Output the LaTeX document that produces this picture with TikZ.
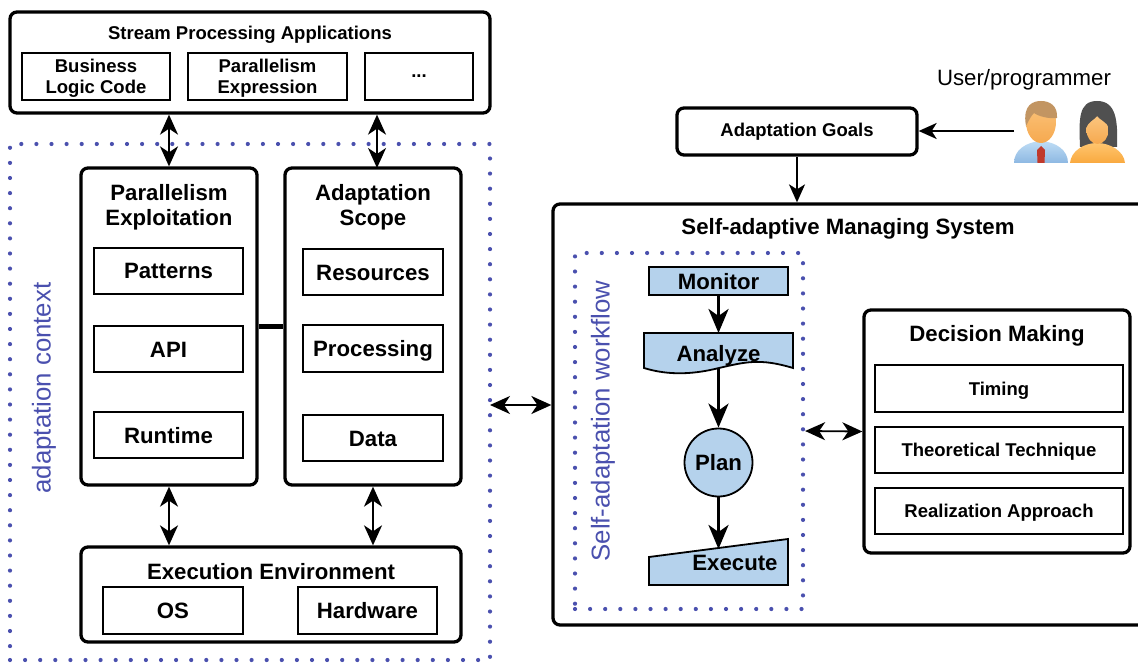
\documentclass[tikz,border=0pt]{standalone}
\usepackage{fontspec}
\setmainfont{Liberation Sans}
\usetikzlibrary{arrows.meta}
\definecolor{flowblue}{HTML}{B5D2EC}
\definecolor{dotblue}{HTML}{4A50AE}
\definecolor{skin}{HTML}{FBC57E}
\definecolor{skindark}{HTML}{F6A94F}
\definecolor{shirtlight}{HTML}{BFDDF5}
\definecolor{shirtdark}{HTML}{8DB8E2}
\definecolor{topyellow}{HTML}{FFC56E}
\definecolor{topdark}{HTML}{F9A93F}
\definecolor{hairbrown}{HTML}{C29562}
\definecolor{hairblack}{HTML}{505050}
\definecolor{tiered}{HTML}{C0392B}
\tikzset{
  bigbox/.style={draw,line width=3.3pt,rounded corners=7pt,inner sep=0pt},
  subbox/.style={draw,line width=1.8pt,inner sep=0pt,align=center,font=\fontsize{18.5}{21}\selectfont\bfseries},
  twoline/.style={subbox,text height=35pt,text depth=0pt},
  oneline/.style={subbox,text height=13.5pt,text depth=0pt},
  bigsub/.style={draw,line width=1.8pt,inner sep=0pt,text height=16pt,text depth=0pt,font=\fontsize{22.2}{25}\selectfont\bfseries},
  dotbox/.style={draw=dotblue,line width=4.2pt,line cap=round,dash pattern=on 0pt off 15.1pt,inner sep=0pt},
  flowbox/.style={draw,fill=flowblue,line width=1.8pt,inner sep=0pt,font=\fontsize{22.2}{25}\selectfont\bfseries},
  flowtxt/.style={inner sep=0pt,font=\fontsize{22.2}{25}\selectfont\bfseries},
  title/.style={inner sep=0pt,align=center,font=\fontsize{22.2}{25}\selectfont\bfseries},
  sidelabel/.style={inner sep=0pt,rotate=90,text=dotblue,font=\fontsize{25.8}{30}\selectfont},
  both/.style={{Stealth[length=20pt,width=18pt,inset=6pt]}-{Stealth[length=20pt,width=18pt,inset=6pt]},line width=1.8pt},
  flow/.style={-{Stealth[length=24pt,width=20pt,inset=7pt]},line width=3.4pt},
  oneway/.style={-{Stealth[length=18pt,width=16pt,inset=5pt]},line width=1.8pt},
}
\begin{document}
\begin{tikzpicture}[x=1pt,y=-1pt]
\useasboundingbox (0,0) rectangle (1138,663);
% dotted frames
\node[dotbox,minimum width=480pt,minimum height=516pt] (context) at (250,402) {};
\node[dotbox,minimum width=228pt,minimum height=356pt] (workflow) at (689,431) {};
\node[sidelabel] (contextlabel) at (44,388) {adaptation context};
\node[sidelabel] (workflowlabel) at (603,421) {Self-adaptation workflow};
% applications
\node[bigbox,fill=white,minimum width=480pt,minimum height=101pt] (apps) at (250,62.5) {};
\node[title,font=\fontsize{18.5}{22}\selectfont\bfseries] (appstitle) at (250,35) {Stream Processing Applications};
\node[twoline,minimum width=148pt,minimum height=47pt] (logic) at (96,76.5) {Business\\Logic Code};
\node[twoline,minimum width=159pt,minimum height=47pt] (express) at (267.5,76.5) {Parallelism\\Expression};
\node[subbox,minimum width=108pt,minimum height=47pt] (dots) at (419,76.5) {...};
% parallelism
\node[bigbox,fill=white,minimum width=176pt,minimum height=317pt] (parallel) at (169,326.5) {};
\node[title] (paralleltitle) at (169,207) {Parallelism\\Exploitation};
\node[bigsub,minimum width=149pt,minimum height=46pt] (patterns) at (168.5,271) {Patterns};
\node[bigsub,minimum width=149pt,minimum height=46pt] (api) at (168.5,349) {API};
\node[bigsub,minimum width=149pt,minimum height=46pt] (runtime) at (168.5,435) {Runtime};
% scope
\node[bigbox,fill=white,minimum width=176pt,minimum height=317pt] (scope) at (373,326.5) {};
\node[title] (scopetitle) at (373,207) {Adaptation\\Scope};
\node[bigsub,minimum width=140pt,minimum height=46pt] (resources) at (373,272) {Resources};
\node[bigsub,minimum width=140pt,minimum height=47pt] (processing) at (373,348.5) {Processing};
\node[bigsub,minimum width=140pt,minimum height=46pt] (data) at (373,438) {Data};
\draw[line width=5pt] (parallel.east |- 0,326) -- (scope.west |- 0,326);
% environment
\node[bigbox,fill=white,minimum width=380pt,minimum height=95pt] (environ) at (271,594.5) {};
\node[title] (environtitle) at (271,572) {Execution Environment};
\node[bigsub,minimum width=140pt,minimum height=47pt] (os) at (173,610.5) {OS};
\node[bigsub,minimum width=139pt,minimum height=47pt] (hardware) at (367.5,610.5) {Hardware};
% goals and user
\node[bigbox,minimum width=240pt,minimum height=47pt,font=\fontsize{18.5}{22}\selectfont\bfseries] (goals) at (797,131.5) {Adaptation Goals};
\node[inner sep=0pt,font=\fontsize{22.2}{26}\selectfont] (user) at (1024,80) {User/programmer};
\coordinate (people) at (1014,131);
% man
\shade[top color=shirtlight,bottom color=shirtdark] (1014,163) .. controls (1014,150) and (1026,142) .. (1041,141) .. controls (1056,142) and (1068,150) .. (1068,163) -- cycle;
\fill[tiered] (1041,146) -- (1045,150) -- (1044.5,163) -- (1037.5,163) -- (1037,150) -- cycle;
\shade[top color=skin,bottom color=skindark] (1041,122) ellipse (15pt and 21pt);
\fill[hairbrown] (1026,126) .. controls (1022,104) and (1034,101) .. (1041,101) .. controls (1050,101) and (1058,106) .. (1057,118) .. controls (1048,119) and (1038,116) .. (1034,113) .. controls (1031,116) and (1029,120) .. (1026,126) -- cycle;
% woman
\fill[hairblack] (1080,147) .. controls (1079,120) and (1078,101) .. (1097,101) .. controls (1116,101) and (1118,120) .. (1117,147) -- cycle;
\shade[top color=topyellow,bottom color=topdark] (1070,163) .. controls (1071,151) and (1084,143) .. (1097,143) .. controls (1110,143) and (1124,151) .. (1125,163) -- cycle;
\shade[top color=skin,bottom color=skindark] (1097.5,130) ellipse (11pt and 14pt);
\fill[hairblack] (1086,128) .. controls (1088,122) and (1094,120) .. (1097,116) .. controls (1100,120) and (1107,122) .. (1109,128) -- (1109,110) -- (1086,110) -- cycle;
% managing system
\node[bigbox,minimum width=597pt,minimum height=421pt] (manage) at (851.5,414.5) {};
\node[title] (managetitle) at (848,229) {Self-adaptive Managing System};
\node[bigbox,minimum width=266pt,minimum height=243pt] (decide) at (997,431.5) {};
\node[title] (decidetitle) at (997,336) {Decision Making};
\node[oneline,minimum width=248pt,minimum height=47pt] (timing) at (999,388.5) {Timing};
\node[oneline,minimum width=248pt,minimum height=46pt] (technique) at (999,450) {Theoretical Technique};
\node[oneline,minimum width=248pt,minimum height=46pt] (approach) at (999,511) {Realization Approach};
% workflow shapes
\node[flowbox,text height=16pt,text depth=0pt,minimum width=139pt,minimum height=28pt] (monitor) at (718.5,281) {Monitor};
\draw[flowbox] (644,333) -- (793,333) -- (793,368) .. controls (760,358) and (745,362) .. (719,368) .. controls (695,374) and (670,376) .. (644,368) -- cycle;
\node[flowtxt] (analyze) at (718.5,356) {Analyze};
\node[flowbox,shape=circle,minimum size=68pt] (plan) at (718.5,462.5) {Plan};
\draw[flowbox] (649,557) -- (788,539) -- (788,585) -- (649,585) -- cycle;
\node[flowtxt] (execute) at (735,563) {Execute};
\coordinate (analyzetop) at (718.5,333);
\coordinate (analyzelow) at (718.5,368);
\coordinate (exectop) at (718.5,549);
% connectors
\draw[both] (apps.south -| parallel.north) -- (parallel.north);
\draw[both] (apps.south -| 377,0) -- (377,168);
\draw[both] (parallel.south) -- (parallel.south |- environ.north);
\draw[both] (scope.south) -- (scope.south |- environ.north);
\coordinate (contextport) at (490,405);
\draw[both] (contextport) -- (contextport -| manage.west);
\draw[both] (workflow.east) -- (decide.west);
\draw[oneway] (people) -- (goals.east |- people);
\draw[oneway] (goals.south) -- (goals.south |- manage.north);
\draw[flow] (monitor.south) -- (analyzetop);
\draw[flow] (analyzelow) -- (plan.north);
\draw[flow] (plan.south) -- (exectop);
\end{tikzpicture}
\end{document}
